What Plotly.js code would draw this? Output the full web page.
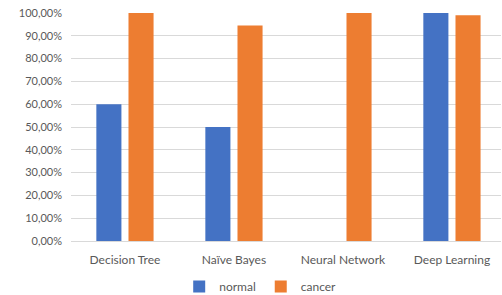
<!DOCTYPE html>
<html><head><meta charset="utf-8">
<script src="https://cdn.plot.ly/plotly-3.0.1.min.js"></script>
<style>html,body{margin:0;padding:0;background:#fff}#c{width:502px;height:295px}</style>
</head><body><div id="c"></div>
<script>
const categories = ["Decision Tree", "Naïve Bayes", "Neural Network", "Deep Learning"];
const normalValues = [0.60, 0.50, 0, 1.00];
const cancerValues = [1.00, 0.945, 1.00, 0.99];
const yTicks = [0,0.1,0.2,0.3,0.4,0.5,0.6,0.7,0.8,0.9,1.0];

const font = {family: "Lato, 'Open Sans', sans-serif", size: 11, color: "#595959"};
const xfont = {family: "Lato, 'Open Sans', sans-serif", size: 12, color: "#595959"};
const data = [
  {type:"bar", name:"normal", x:categories, y:normalValues, marker:{color:"#4472C4"}},
  {type:"bar", name:"cancer", x:categories, y:cancerValues, marker:{color:"#ED7D31"}}
];
const layout = {
  width:502, height:295,
  margin:{l:71, r:1, t:13, b:54, autoexpand:false},
  paper_bgcolor:"#fff", plot_bgcolor:"#fff",
  separators:",.",
  font:font,
  barmode:"group", bargap:0.41, bargroupgap:0.22,
  showlegend:true,
  legend:{orientation:"h", xref:"paper", yref:"paper", x:0.44, xanchor:"center", y:-0.2, yanchor:"middle", font:xfont, itemwidth:30, tracegroupgap:0},
  xaxis:{range:[-0.495, 3.45], automargin:false, showgrid:false, showline:true, linecolor:"#d9d9d9", linewidth:1, ticks:"", tickfont:xfont, ticklabelstandoff:8, fixedrange:true},
  yaxis:{range:[0,1.0], automargin:false, tickvals:yTicks, tickformat:".2%", showgrid:true, gridcolor:"#d9d9d9", gridwidth:1, zeroline:false, showline:false, ticks:"", tickfont:font, ticklabelstandoff:8, fixedrange:true}
};
Plotly.newPlot("c", data, layout, {displayModeBar:false, staticPlot:true});
</script></body></html>
